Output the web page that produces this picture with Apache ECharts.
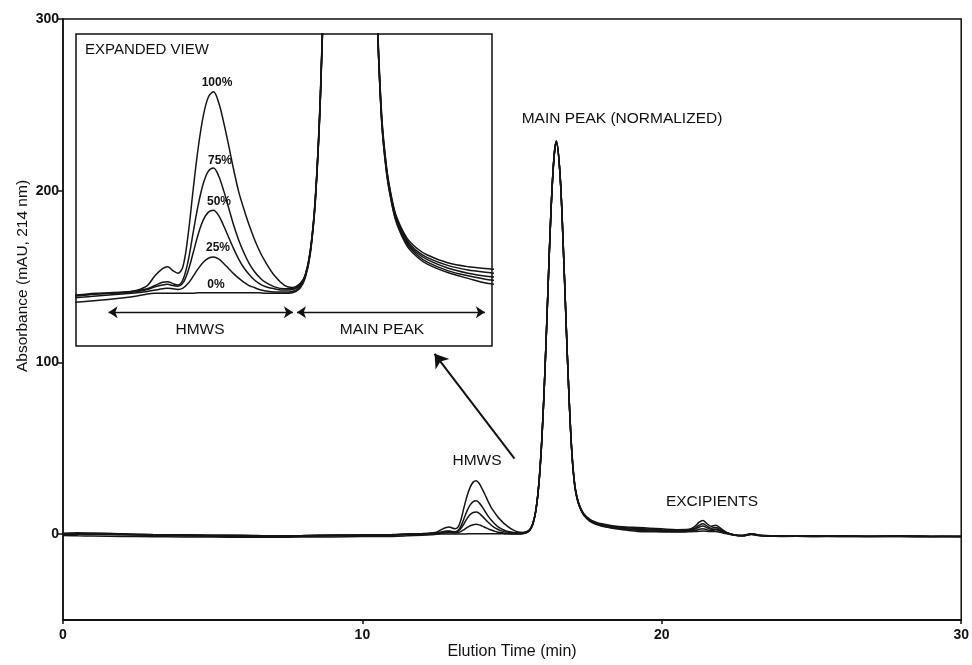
<!DOCTYPE html>
<html>
<head>
<meta charset="utf-8">
<title>SEC chromatogram</title>
<script src="https://cdn.jsdelivr.net/npm/echarts@6/dist/echarts.min.js"></script>
<style>
    html, body { margin: 0; padding: 0; background: #fff; }
    #chart { width: 972px; height: 665px; }
</style>
</head>
<body>
<div id="chart"></div>
<script>
// elution time (min)
var times = [
    0, 0.5, 1, 2, 3, 4, 5, 6, 7, 8, 9, 10, 11, 11.5, 12, 12.3, 12.5, 12.65, 12.8, 12.9,
    13.0, 13.1, 13.2, 13.3, 13.4, 13.5, 13.6, 13.7, 13.8, 13.9,
    14.0, 14.1, 14.2, 14.3, 14.4, 14.5, 14.6, 14.7, 14.8, 15.0,
    15.2, 15.35, 15.5, 15.6, 15.7, 15.8, 15.9, 16.0, 16.1, 16.2,
    16.3, 16.4, 16.48, 16.6, 16.7, 16.8, 16.9, 17.0, 17.1, 17.2,
    17.3, 17.4, 17.6, 17.8, 18.0, 18.4, 18.8, 19.2, 19.6, 20.0,
    20.5, 20.9, 21.1, 21.25, 21.37, 21.5, 21.65, 21.8, 21.95, 22.15,
    22.4, 22.7, 23.0, 23.2, 23.5, 24, 25, 26, 27, 28,
    29, 30
];

// absorbance (mAU) for each spiked sample
var trace100 = [
    0.5, 0.8, 0.3, 0, -0.3, -0.5, -0.6, -0.8, -0.9, -0.8, -0.6, -0.5, -0.3, 0, 0.2, 0.6, 1.3, 2.8, 3.9, 4.2,
    3.6, 3.2, 4.2, 9.0, 16.0, 22.5, 27.4, 30.3, 31.1, 29.5,
    26.4, 22.8, 19.0, 15.6, 13.0, 10.6, 8.5, 6.7, 5.2, 2.8,
    1.3, 1.0, 1.6, 2.9, 6.6, 14.8, 31, 58, 97, 144,
    189, 220, 229, 210, 172, 125, 81, 47, 28, 19.5,
    14.8, 11.8, 8.6, 7.0, 6.0, 4.8, 4.2, 3.9, 3.5, 3.1,
    2.6, 2.8, 4.5, 7.0, 8.0, 6.2, 4.6, 5.2, 3.6, 1.2,
    -0.3, -0.8, 0.2, -0.4, -0.9, -1.0, -1.1, -1.0, -1.2, -1.1,
    -1.2, -1.3
];
var trace75 = [
    0.2, 0.4, 0.6, 0.2, -0.2, -0.4, -0.7, -0.6, -1.0, -0.9, -0.5, -0.4, -0.2, 0.1, 0.3, 0.5, 0.8, 1.3, 1.8, 1.9,
    1.6, 1.4, 2.2, 5.0, 9.4, 13.7, 17.0, 18.9, 19.4, 18.2,
    15.9, 13.2, 10.5, 8.2, 6.3, 4.7, 3.5, 2.6, 1.9, 1.1,
    0.8, 0.8, 1.4, 2.8, 6.5, 14.6, 30.5, 57.5, 96.5, 143.5,
    189, 220, 229, 210, 172, 125, 80.5, 46.5, 27.5, 19.2,
    14.6, 11.5, 8.3, 6.6, 5.6, 4.4, 3.7, 3.3, 2.9, 2.5,
    2.1, 2.4, 3.4, 5.2, 6.0, 4.8, 3.5, 3.9, 2.8, 1.0,
    -0.3, -0.7, 0.3, -0.5, -0.8, -1.1, -1.0, -1.1, -1.2, -1.0,
    -1.3, -1.2
];
var trace50 = [
    -0.3, 0, 0.2, -0.2, -0.5, -0.8, -0.9, -1.1, -1.2, -1.0, -0.8, -0.6, -0.3, 0, 0.2, 0.4, 0.7, 1.1, 1.4, 1.5,
    1.3, 1.2, 1.7, 3.5, 6.3, 9.2, 11.4, 12.6, 12.9, 12.1,
    10.5, 8.7, 6.9, 5.3, 4.0, 3.0, 2.2, 1.6, 1.2, 0.8,
    0.6, 0.7, 1.3, 2.7, 6.4, 14.5, 30.5, 57.5, 96.5, 143.5,
    189, 219.5, 228.5, 209.5, 171.5, 125, 80.5, 46.5, 27.3, 19.0,
    14.4, 11.3, 8.0, 6.3, 5.3, 4.0, 3.2, 2.7, 2.4, 2.1,
    1.8, 2.0, 2.8, 4.2, 4.7, 3.8, 2.8, 3.0, 2.2, 0.7,
    -0.4, -0.9, 0.1, -0.6, -1.0, -1.2, -1.3, -1.1, -1.3, -1.2,
    -1.4, -1.3
];
var trace25 = [
    0.3, 0.1, -0.1, -0.4, -0.7, -1.0, -1.2, -1.3, -1.4, -1.2, -1.0, -0.8, -0.6, -0.3, 0, 0.2, 0.4, 0.6, 0.8, 0.9,
    0.8, 0.7, 0.9, 1.6, 2.7, 3.9, 4.9, 5.5, 5.7, 5.4,
    4.7, 3.9, 3.1, 2.4, 1.8, 1.3, 1.0, 0.7, 0.5, 0.3,
    0.3, 0.4, 1.1, 2.6, 6.3, 14.4, 30.3, 57.3, 96.3, 143.3,
    188.5, 219.5, 228.5, 209.5, 171.5, 124.5, 80.2, 46.2, 27.0, 18.7,
    14.1, 11.0, 7.7, 6.0, 4.9, 3.6, 2.8, 2.2, 1.9, 1.7,
    1.5, 1.7, 2.0, 2.8, 3.1, 2.6, 2.0, 2.6, 1.8, 0.5,
    -0.5, -1.0, 0, -0.7, -1.1, -1.3, -1.2, -1.3, -1.4, -1.3,
    -1.4, -1.5
];
var trace0 = [
    -0.8, -1.0, -1.1, -1.3, -1.5, -1.6, -1.7, -1.8, -1.8, -1.7, -1.6, -1.4, -1.3, -1.0, -0.6, -0.3, 0, 0.1, 0.1, 0.1,
    0.1, 0.1, 0.1, 0.1, 0.1, 0.2, 0.2, 0.2, 0.2, 0.2,
    0.2, 0.2, 0.2, 0.2, 0.2, 0.2, 0.2, 0.2, 0.1, 0.1,
    0.1, 0.2, 0.9, 2.4, 6.1, 14.2, 30, 57, 96, 143,
    188.5, 219, 228, 209, 171, 124.5, 80, 46, 26.8, 18.5,
    13.9, 10.8, 7.4, 5.7, 4.6, 3.3, 2.4, 1.6, 1.4, 1.3,
    1.2, 1.4, 1.5, 1.7, 1.8, 1.7, 1.5, 1.6, 1.1, 0.3,
    -0.5, -1.0, -0.2, -0.8, -1.1, -1.2, -1.3, -1.4, -1.3, -1.4,
    -1.5, -1.4
];

var seriesNames = ["100%", "75%", "50%", "25%", "0%"];
var xTicks = [0, 10, 20, 30];
var yTicks = [0, 100, 200, 300];

var FONT = "'Liberation Sans', Arial, sans-serif";

// tiny helper instead of jQuery's $.extend
var $ = {
    extend_label: function(base, extra){
        var out = {};
        for (var k in base) out[k] = base[k];
        for (var j in extra) out[j] = extra[j];
        return out;
    }
};

var CHART = {
    traces: [trace100, trace75, trace50, trace25, trace0],
    init: function(){
        var _this = this;
        var myChart = echarts.init(document.getElementById("chart"), null, {renderer: "canvas"});
        myChart.setOption(_this.init_option());
    },
    pairs: function(vals){
        return times.map(function(t, i){ return [t, vals[i]]; });
    },
    make_series: function(axisIndex){
        var _this = this;
        var series = [];
        _this.traces.forEach(function(vals, i){
            series.push({
                name: seriesNames[i] + (axisIndex ? " inset" : ""),
                type: "line",
                xAxisIndex: axisIndex,
                yAxisIndex: axisIndex,
                data: _this.pairs(vals),
                showSymbol: false,
                smooth: 0.35,
                clip: true,
                lineStyle: {color: "#151515", width: 1.5},
                z: 3
            });
        });
        return series;
    },
    text: function(str, x, y, size, weight, align){
        return {
            type: "text",
            x: x, y: y, z: 100,
            style: {
                text: str,
                font: (weight || "normal") + " " + size + "px " + FONT,
                fill: "#111",
                textAlign: align || "center",
                textVerticalAlign: "middle"
            }
        };
    },
    init_option: function(){
        var _this = this;
        var main = _this.make_series(0);
        var inset = _this.make_series(1);

        // arrow from the HMWS peak to the expanded view
        main[0].markLine = {
            silent: true,
            symbol: ["none", "arrow"],
            symbolSize: 13,
            label: {show: false},
            lineStyle: {color: "#111", width: 2, type: "solid"},
            data: [[{coord: [15.08, 44]}, {coord: [12.41, 105]}]]
        };
        // HMWS / MAIN PEAK ranges in the inset
        inset[0].markLine = {
            silent: true,
            symbol: ["arrow", "arrow"],
            symbolSize: 9,
            label: {show: false},
            lineStyle: {color: "#111", width: 1.3, type: "solid"},
            data: [
                [{coord: [11.74, -2.8]}, {coord: [15.36, -2.8]}],
                [{coord: [15.44, -2.8]}, {coord: [19.13, -2.8]}]
            ]
        };

        var tickLabel = {color: "#111", fontFamily: FONT, fontWeight: "bold", fontSize: 14};

        return {
            animation: false,
            backgroundColor: "#fff",
            grid: [
                {left: 63, right: 10, top: 19, bottom: 45, show: true, borderColor: "#111", borderWidth: 1.5},
                {left: 76, right: 480, top: 34, bottom: 319, show: true, borderColor: "#111", borderWidth: 1.5, backgroundColor: "#fff", z: 1}
            ],
            xAxis: [
                {
                    type: "value", gridIndex: 0, min: 0, max: 30, interval: 10,
                    axisLine: {onZero: false, lineStyle: {color: "#111", width: 2}},
                    axisTick: {show: true, length: 4, lineStyle: {color: "#111", width: 1.5}},
                    axisLabel: $.extend_label(tickLabel, {margin: 8, formatter: function(v){ return xTicks.indexOf(v) > -1 ? String(v) : ""; }}),
                    splitLine: {show: false}
                },
                {type: "value", gridIndex: 1, min: 11.1, max: 19.27, show: false}
            ],
            yAxis: [
                {
                    type: "value", gridIndex: 0, min: -50, max: 300,
                    axisLine: {show: true, onZero: false, lineStyle: {color: "#111", width: 1.5}},
                    axisTick: {show: true, length: 5, customValues: yTicks, lineStyle: {color: "#111", width: 1.5}},
                    axisLabel: $.extend_label(tickLabel, {margin: 4, customValues: yTicks}),
                    splitLine: {show: false}
                },
                {type: "value", gridIndex: 1, min: -8, max: 40, show: false}
            ],
            series: main.concat(inset),
            graphic: [
                _this.text("MAIN PEAK (NORMALIZED)", 622, 119, 15.5),
                _this.text("HMWS", 477, 461, 15.5),
                _this.text("EXCIPIENTS", 712, 502, 15.5),
                _this.text("EXPANDED VIEW", 85, 50, 15, "normal", "left"),
                _this.text("100%", 217, 83, 12, "bold"),
                _this.text("75%", 220, 161, 12, "bold"),
                _this.text("50%", 219, 202, 12, "bold"),
                _this.text("25%", 218, 248, 12, "bold"),
                _this.text("0%", 216, 285, 12, "bold"),
                _this.text("HMWS", 200, 330, 15.5),
                _this.text("MAIN PEAK", 382, 330, 15.5),
                _this.text("Elution Time (min)", 512, 652, 16),
                {
                    type: "text", x: 23, y: 276, rotation: Math.PI / 2, z: 100,
                    style: {
                        text: "Absorbance (mAU, 214 nm)",
                        font: "normal 15.5px " + FONT,
                        fill: "#111", textAlign: "center", textVerticalAlign: "middle"
                    }
                }
            ]
        };
    }
};

CHART.init();
</script>
</body>
</html>
